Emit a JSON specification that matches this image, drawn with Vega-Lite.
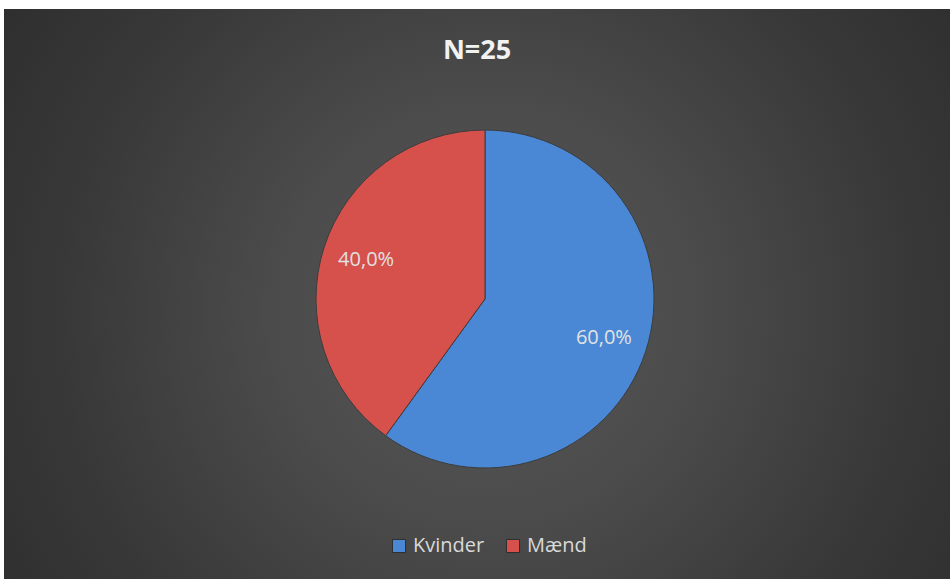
{
  "$schema": "https://vega.github.io/schema/vega-lite/v6.json",
  "autosize": {"type": "fit", "contains": "padding"},
  "width": 950,
  "height": 579,
  "padding": {"left": 4, "top": 9, "right": 0, "bottom": 0},
  "background": "white",
  "config": {
    "view": {"stroke": null},
    "locale": {"number": {"decimal": ",", "thousands": ".", "grouping": [3], "currency": ["", " kr."]}}
  },
  "title": {
    "text": "N=25",
    "font": "Open Sans",
    "fontSize": 27,
    "fontWeight": "bold",
    "color": "#f2f2f2",
    "anchor": "middle",
    "offset": -56
  },
  "data": {"values": [{"Køn": "Kvinder", "Andel": 0.6}, {"Køn": "Mænd", "Andel": 0.4}]},
  "layer": [
    {
      "data": {"values": [{"bg": 1}]},
      "mark": {
        "type": "rect",
        "color": {
          "gradient": "radial",
          "x1": 0.51, "y1": 0.52, "r1": 0,
          "x2": 0.51, "y2": 0.52, "r2": 0.75,
          "stops": [
            {"offset": 0, "color": "#585858"},
            {"offset": 0.3, "color": "#4b4b4b"},
            {"offset": 0.6, "color": "#383838"},
            {"offset": 1, "color": "#262626"}
          ]
        }
      },
      "encoding": {}
    },
    {
      "mark": {
        "type": "arc",
        "radius": 169,
        "x": {"expr": "width/2 + 8"},
        "y": {"expr": "height/2 + 5"},
        "stroke": "#3c3c3c",
        "strokeWidth": 1
      },
      "encoding": {
        "theta": {"field": "Andel", "type": "quantitative", "stack": true},
        "color": {
          "field": "Køn",
          "type": "nominal",
          "scale": {"domain": ["Kvinder", "Mænd"], "range": ["#4a88d6", "#d6504c"]},
          "legend": {
            "title": null,
            "orient": "none",
            "direction": "horizontal",
            "legendX": 385,
            "legendY": 527,
            "symbolType": "square",
            "symbolSize": 170,
            "symbolStrokeColor": "#2e2e2e",
            "symbolStrokeWidth": 1,
            "symbolOpacity": 1,
            "labelFont": "Open Sans",
            "labelFontSize": 20,
            "labelColor": "#d9d9d9",
            "labelOffset": 4,
            "columnPadding": 18
          }
        },
        "order": {"field": "Køn"}
      }
    },
    {
      "mark": {
        "type": "text",
        "radius": 125,
        "x": {"expr": "width/2 + 8"},
        "y": {"expr": "height/2 + 5"},
        "font": "Open Sans",
        "fontSize": 20,
        "color": "#e2e2e2"
      },
      "encoding": {
        "theta": {"field": "Andel", "type": "quantitative", "stack": true},
        "order": {"field": "Køn"},
        "text": {"field": "Andel", "type": "quantitative", "format": ".1%"}
      }
    }
  ]
}
